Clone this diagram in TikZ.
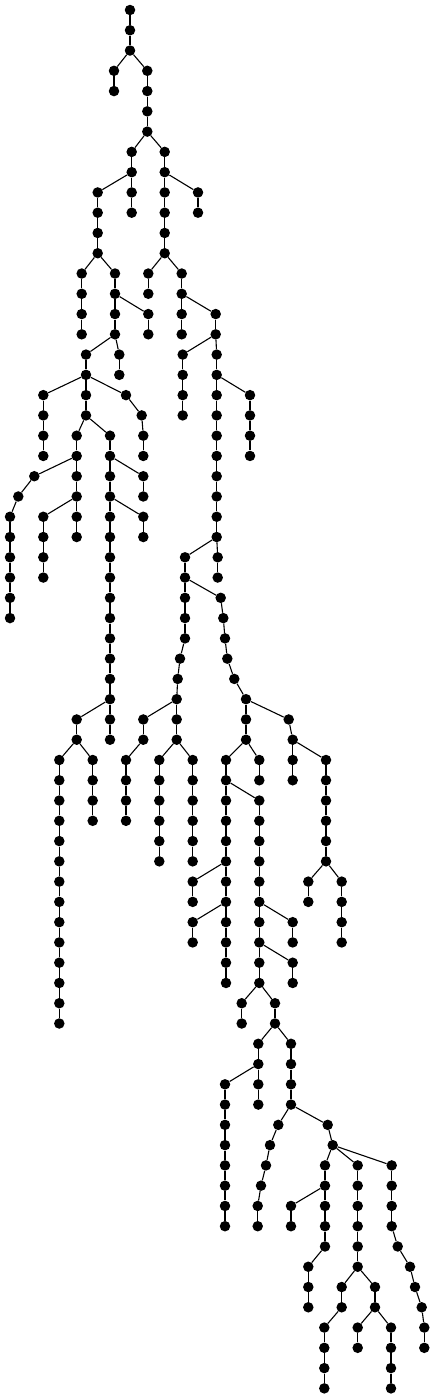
\documentclass[tikz,border=0pt]{standalone}
\usepackage{tikz}
\tikzset{
  dot/.style={circle, fill=black, draw=none, inner sep=0pt, minimum size=10.5pt},
  edge/.style={draw=black, line width=1.1pt}
}
\newcommand\TN[3]{\node[dot] (#1) at (#2,{10+20.27*#3}) {};}
\newcommand\E[2]{\draw[edge] (#1)--(#2);}
\newcommand\chain[4]{%
  \foreach \k in {#3,...,#4}{%
    \node[dot] (#1\k) at (#2,{10+20.27*\k}) {};
    \ifnum\k>#3\relax
      \pgfmathtruncatemacro\prv{\k-1}%
      \draw[edge] (#1\prv)--(#1\k);
    \fi
  }}
\begin{document}
\begin{tikzpicture}[x=1pt,y=-1pt]
\useasboundingbox (0,0) rectangle (435,1398);
\chain{a}{130}{0}{2}
\chain{b}{114}{3}{4} \E{a2}{b3}
\chain{c}{147.3}{3}{6} \E{a2}{c3}
\chain{d}{131.7}{7}{8} \E{c6}{d7}
\chain{e}{97.7}{9}{12} \E{d8}{e9}
\chain{f}{131.7}{9}{10} \E{d8}{f9}
\chain{g}{164.7}{7}{12} \E{c6}{g7}
\chain{h}{198}{9}{10} \E{g8}{h9}
\chain{i}{81.7}{13}{16} \E{e12}{i13}
\chain{j}{115}{13}{16} \E{e12}{j13}
\chain{k}{148.3}{15}{16} \E{j14}{k15}
\chain{l}{86}{17}{20} \E{j16}{l17}
\chain{m}{119.3}{17}{18} \E{j16}{m17}
\chain{n}{43.3}{19}{22} \E{l18}{n19}
\TN{o19}{126}{19} \TN{o20}{141.7}{20} \TN{o21}{143.3}{21} \TN{o22}{143.3}{22}
\E{l18}{o19} \E{o19}{o20} \E{o20}{o21} \E{o21}{o22}
\chain{p}{76.7}{21}{26} \E{l20}{p21}
\TN{r23}{34.3}{23} \TN{r24}{18.3}{24}
\chain{r}{10}{25}{30}
\E{p22}{r23} \E{r23}{r24} \E{r24}{r25}
\chain{s}{43.3}{25}{28} \E{p24}{s25}
\chain{q}{110}{21}{36} \E{l20}{q21}
\chain{t}{143.3}{23}{24} \E{q22}{t23}
\chain{u}{143.3}{25}{26} \E{q24}{u25}
\chain{v}{76.7}{35}{36} \E{q34}{v35}
\chain{x}{59.3}{37}{50} \E{v36}{x37}
\chain{y}{92.7}{37}{40} \E{v36}{y37}
\chain{gl}{148.3}{13}{14} \E{g12}{gl13}
\chain{gr}{181.7}{13}{16} \E{g12}{gr13}
\chain{z}{215.7}{15}{16} \E{gr14}{z15}
\chain{A}{182.7}{17}{20} \E{z16}{A17}
\chain{B}{216.7}{17}{26} \E{z16}{B17}
\chain{C}{250}{19}{22} \E{B18}{C19}
\chain{E}{217.7}{27}{28} \E{B26}{E27}
\TN{D27}{185}{27} \TN{D28}{185}{28} \TN{D29}{185}{29} \TN{D30}{185}{30}
\TN{D31}{185}{31} \TN{D32}{180}{32} \TN{D33}{177.7}{33} \TN{D34}{176.7}{34}
\TN{D35}{176.7}{35} \TN{D36}{176.7}{36}
\E{B26}{D27} \E{D27}{D28} \E{D28}{D29} \E{D29}{D30} \E{D30}{D31} \E{D31}{D32}
\E{D32}{D33} \E{D33}{D34} \E{D34}{D35} \E{D35}{D36}
\TN{F29}{220.7}{29} \TN{F30}{223.3}{30} \TN{F31}{225}{31} \TN{F32}{227.3}{32}
\TN{F33}{234.3}{33} \TN{F34}{246}{34} \TN{F35}{246}{35} \TN{F36}{246}{36}
\E{D28}{F29} \E{F29}{F30} \E{F30}{F31} \E{F31}{F32} \E{F32}{F33} \E{F33}{F34}
\E{F34}{F35} \E{F35}{F36}
\chain{G}{143.3}{35}{36} \E{D34}{G35}
\chain{Gb}{126}{37}{40} \E{G36}{Gb37}
\chain{I}{159.3}{37}{42} \E{D36}{I37}
\chain{J}{192.7}{37}{42} \E{D36}{J37}
\TN{K35}{288.7}{35} \TN{K36}{292.7}{36} \TN{K37}{292.7}{37} \TN{K38}{292.7}{38}
\E{F34}{K35} \E{K35}{K36} \E{K36}{K37} \E{K37}{K38}
\chain{Kb}{326}{37}{42} \E{K36}{Kb37}
\chain{Ka}{308.3}{43}{44} \E{Kb42}{Ka43}
\chain{Kc}{341.7}{43}{46} \E{Kb42}{Kc43}
\chain{L}{226}{37}{48} \E{F36}{L37}
\chain{M}{259.3}{37}{38} \E{F36}{M37}
\chain{N}{259.3}{39}{48} \E{L38}{N39}
\chain{O}{192.7}{43}{44} \E{L42}{O43}
\chain{P}{192.7}{45}{46} \E{L44}{P45}
\chain{Q}{292.7}{45}{46} \E{N44}{Q45}
\chain{R}{292.7}{47}{48} \E{N46}{R47}
\chain{S}{241.7}{49}{50} \E{N48}{S49}
\chain{T}{275}{49}{50} \E{N48}{T49}
\chain{U}{258.3}{51}{54} \E{T50}{U51}
\chain{W}{225}{53}{60} \E{U52}{W53}
\chain{V}{291}{51}{54} \E{T50}{V51}
\TN{X55}{278.3}{55} \TN{X56}{270}{56} \TN{X57}{266}{57} \TN{X58}{261}{58}
\TN{X59}{257.7}{59} \TN{X60}{257.7}{60}
\E{V54}{X55} \E{X55}{X56} \E{X56}{X57} \E{X57}{X58} \E{X58}{X59} \E{X59}{X60}
\TN{Y55}{327.7}{55} \TN{Y56}{332.7}{56}
\E{V54}{Y55} \E{Y55}{Y56}
\chain{Z}{325}{57}{61} \E{Y56}{Z57}
\chain{Za}{291}{59}{60} \E{Z58}{Za59}
\chain{Zb}{308.3}{62}{64} \E{Z61}{Zb62}
\chain{AA}{357.7}{57}{62} \E{Y56}{AA57}
\chain{AC}{341.7}{63}{64} \E{AA62}{AC63}
\chain{ACb}{324.3}{65}{68} \E{AC64}{ACb65}
\chain{AD}{375}{63}{64} \E{AA62}{AD63}
\chain{AE}{357.7}{65}{66} \E{AD64}{AE65}
\chain{AF}{391}{65}{68} \E{AD64}{AF65}
\chain{AB}{391.7}{57}{60} \E{Y56}{AB57}
\TN{AB61}{397.7}{61} \TN{AB62}{410}{62} \TN{AB63}{415}{63} \TN{AB64}{421.7}{64}
\TN{AB65}{424.3}{65} \TN{AB66}{424.3}{66}
\E{AB60}{AB61} \E{AB61}{AB62} \E{AB62}{AB63} \E{AB63}{AB64} \E{AB64}{AB65} \E{AB65}{AB66}
\end{tikzpicture}
\end{document}
